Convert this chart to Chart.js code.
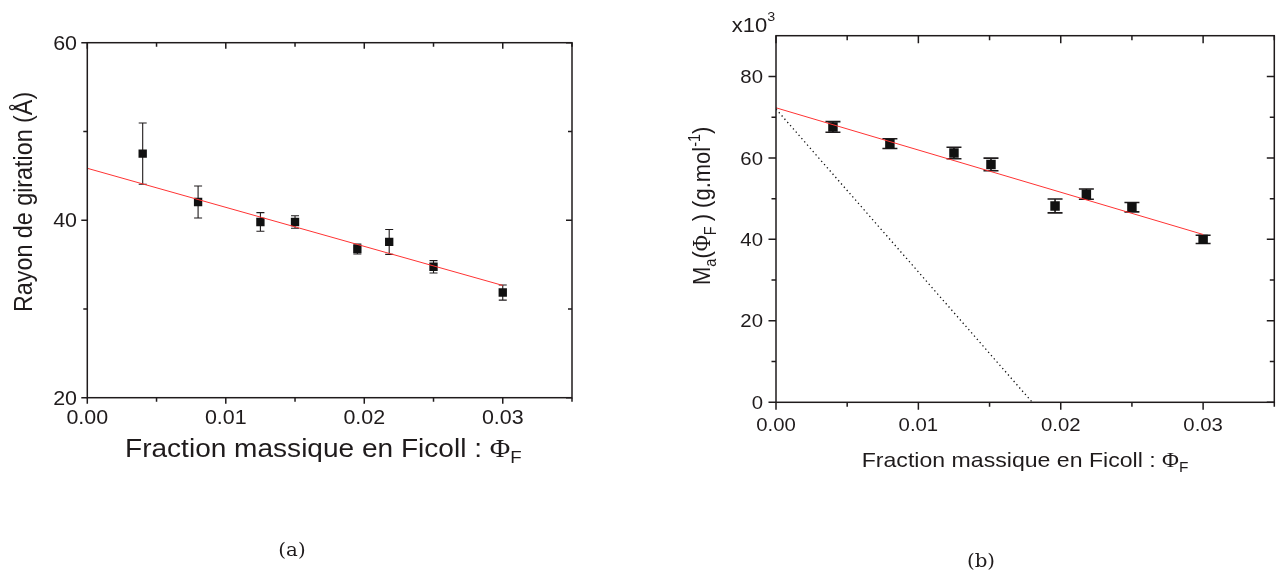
<!DOCTYPE html>
<html><head><meta charset="utf-8">
<script src="https://cdn.jsdelivr.net/npm/chart.js"></script>
<style>
html,body{margin:0;padding:0;background:#fff;overflow:hidden}
#wrap{position:relative;width:1283px;height:577px}
canvas{position:absolute;top:0}
</style></head><body>
<div id="wrap">
<canvas id="ca" width="640" height="577" style="left:0"></canvas>
<canvas id="cb" width="643" height="577" style="left:640px"></canvas>
</div>
<script>
// ---------- data (a) ----------
const phiA   = [0.0040, 0.0080, 0.0125, 0.0150, 0.0195, 0.0218, 0.0250, 0.0300];
const rgA    = [47.5, 42.05, 39.8, 39.8, 36.75, 37.55, 34.75, 31.85];
const rgErrA = [3.45, 1.8, 1.05, 0.7, 0.55, 1.4, 0.7, 0.85];
const fitXA  = [0, 0.030];
const fitYA  = [45.85, 32.65];

// ---------- data (b) (x10^3 g/mol) ----------
const phiB   = [0.0040, 0.0080, 0.0125, 0.0151, 0.0196, 0.0218, 0.0250, 0.0300];
const maB    = [67.6, 63.5, 61.2, 58.4, 48.2, 51.1, 47.9, 40.0];
const maErrB = [1.3, 1.2, 1.4, 1.55, 1.7, 1.25, 1.15, 1.0];
const fitXB  = [0, 0.030];
const fitYB  = [72.3, 41.2];
const dotXB  = [0, 0.018];
const dotYB  = [72.0, 0];

// ---------- ticks ----------
const xMajor = [0, 0.01, 0.02, 0.03];
const xLabels = ['0.00', '0.01', '0.02', '0.03'];
const xMinor = [0.005, 0.015, 0.025, 0.035];
const yMajorA = [20, 40, 60];
const yLabelsA = ['20', '40', '60'];
const yMinorA = [30, 50];
const yMajorB = [0, 20, 40, 60, 80];
const yLabelsB = ['0', '20', '40', '60', '80'];
const yMinorB = [10, 30, 50, 70];

const SANS = '"Liberation Sans", Arial, sans-serif';
const SERIF = '"Liberation Serif", "Times New Roman", serif';
const INK = '#1f1b1c';
const ST = 1.1; // horizontal stretch of the lettering

function richText(ctx, segs, x, y, align, rotate) {
  ctx.save();
  ctx.translate(x, y);
  ctx.scale(ST, 1);
  if (rotate) ctx.rotate(-Math.PI / 2);
  ctx.fillStyle = INK;
  ctx.textBaseline = 'alphabetic';
  ctx.textAlign = 'left';
  let w = 0;
  segs.forEach(s => { ctx.font = `${s.size}px ${s.fam || SANS}`; s.w = ctx.measureText(s.t).width; w += s.w + (s.gap || 0); });
  let cx = align === 'center' ? -w / 2 : align === 'right' ? -w : 0;
  segs.forEach(s => { ctx.font = `${s.size}px ${s.fam || SANS}`; ctx.fillText(s.t, cx, s.dy || 0); cx += s.w + (s.gap || 0); });
  ctx.restore();
}

function makePlugin(cfg) {
  return {
    id: 'decor',
    beforeDatasetsDraw(chart) {
      const ctx = chart.ctx, xs = chart.scales.x, ys = chart.scales.y;
      ctx.save();
      ctx.strokeStyle = INK;
      ctx.lineWidth = cfg.errW;
      cfg.xs.forEach((xv, i) => {
        const px = xs.getPixelForValue(xv);
        const yt = ys.getPixelForValue(cfg.ys[i] + cfg.err[i]);
        const yb = ys.getPixelForValue(cfg.ys[i] - cfg.err[i]);
        ctx.beginPath();
        ctx.moveTo(px, yt); ctx.lineTo(px, yb);
        ctx.moveTo(px - cfg.cap, yt); ctx.lineTo(px + cfg.cap, yt);
        ctx.moveTo(px - cfg.cap, yb); ctx.lineTo(px + cfg.cap, yb);
        ctx.stroke();
      });
      ctx.restore();
    },
    afterDraw(chart) {
      const ctx = chart.ctx, xs = chart.scales.x, ys = chart.scales.y;
      const a = chart.chartArea;
      ctx.save();
      ctx.strokeStyle = INK;
      ctx.lineWidth = 1.5;
      ctx.strokeRect(a.left, a.top, a.right - a.left, a.bottom - a.top);
      ctx.beginPath();
      const tx = (v, len) => {
        const p = xs.getPixelForValue(v);
        ctx.moveTo(p, a.bottom); ctx.lineTo(p, a.bottom + len);
        ctx.moveTo(p, a.top); ctx.lineTo(p, a.top + len);
      };
      const ty = (v, len) => {
        const p = ys.getPixelForValue(v);
        ctx.moveTo(a.left - len, p); ctx.lineTo(a.left, p);
        ctx.moveTo(a.right - len, p); ctx.lineTo(a.right, p);
      };
      cfg.xMajor.forEach(v => tx(v, cfg.maj));
      cfg.xMinor.forEach(v => tx(v, cfg.min));
      cfg.yMajor.forEach(v => ty(v, cfg.maj));
      cfg.yMinor.forEach(v => ty(v, cfg.min));
      ctx.stroke();
      ctx.restore();
      cfg.xMajor.forEach((v, i) => richText(ctx, [{t: cfg.xLabels[i], size: cfg.tickSize}], xs.getPixelForValue(v), cfg.xLabBase, 'center'));
      cfg.yMajor.forEach((v, i) => richText(ctx, [{t: cfg.yLabels[i], size: cfg.tickSize}], cfg.yLabRight, ys.getPixelForValue(v) + cfg.tickSize * 0.36, 'right'));
      cfg.extra(ctx);
    }
  };
}

function makeChart(id, cfg) {
  return new Chart(document.getElementById(id), {
    type: 'scatter',
    data: {
      datasets: cfg.datasets
    },
    options: {
      responsive: false,
      animation: false,
      events: [],
      layout: {padding: cfg.pad},
      plugins: {legend: {display: false}, tooltip: {enabled: false}},
      scales: {
        x: {type: 'linear', min: 0, max: 0.035, display: false},
        y: {type: 'linear', min: cfg.ymin, max: cfg.ymax, display: false}
      }
    },
    plugins: [makePlugin(cfg)]
  });
}

const pts = (xs, ys) => xs.map((x, i) => ({x, y: ys[i]}));

// ---------- chart (a) ----------
makeChart('ca', {
  pad: {left: 87.3, top: 42.7, right: 68, bottom: 179.3},
  ymin: 20, ymax: 60,
  xs: phiA, ys: rgA, err: rgErrA, errW: 1.1, cap: 4,
  xMajor, xMinor, xLabels, yMajor: yMajorA, yMinor: yMinorA, yLabels: yLabelsA,
  maj: 6, min: 4, tickSize: 19.5, xLabBase: 424, yLabRight: 77,
  datasets: [
    {data: pts(fitXA, fitYA), showLine: true, borderColor: '#ff3333', borderWidth: 1, pointRadius: 0},
    {data: pts(phiA, rgA), pointStyle: 'rect', pointRadius: 5.9, backgroundColor: '#111', borderWidth: 0}
  ],
  extra(ctx) {
    richText(ctx, [
      {t: 'Fraction massique en Ficoll : ', size: 25.5},
      {t: 'Φ', size: 25.5, fam: SERIF},
      {t: 'F', size: 17, dy: 6}
    ], 125, 457, 'left');
    richText(ctx, [{t: 'Rayon de giration (Å)', size: 23.3}], 31.7, 312, 'left', true);
    richText(ctx, [{t: '(a)', size: 18, fam: '"DejaVu Serif", serif'}], 292, 556, 'center');
  }
});

// ---------- chart (b) ----------
makeChart('cb', {
  pad: {left: 136, top: 35.7, right: 8.7, bottom: 174.7},
  ymin: 0, ymax: 90,
  xs: phiB, ys: maB, err: maErrB, errW: 1.6, cap: 7.5,
  xMajor, xMinor, xLabels, yMajor: yMajorB, yMinor: yMinorB, yLabels: yLabelsB,
  maj: 7.5, min: 4.5, tickSize: 18.5, xLabBase: 431, yLabRight: 123,
  datasets: [
    {data: pts(dotXB, dotYB), showLine: true, borderColor: '#111', borderWidth: 1.3, borderDash: [1.3, 3], pointRadius: 0},
    {data: pts(fitXB, fitYB), showLine: true, borderColor: '#ff3333', borderWidth: 1, pointRadius: 0},
    {data: pts(phiB, maB), pointStyle: 'rect', pointRadius: 6.7, backgroundColor: '#111', borderWidth: 0}
  ],
  extra(ctx) {
    richText(ctx, [
      {t: 'Fraction massique en Ficoll : ', size: 21},
      {t: 'Φ', size: 21, fam: SERIF},
      {t: 'F', size: 14, dy: 5}
    ], 221.7, 467, 'left');
    richText(ctx, [
      {t: 'M', size: 22},
      {t: 'a', size: 14.5, dy: 5},
      {t: '(', size: 22},
      {t: 'Φ', size: 22, fam: SERIF},
      {t: 'F', size: 14.5, dy: 5, gap: 5},
      {t: ') (g.mol', size: 22},
      {t: '-1', size: 14.5, dy: -9},
      {t: ')', size: 22}
    ], 70, 285, 'left', true);
    richText(ctx, [{t: 'x10', size: 20}, {t: '3', size: 13, dy: -11}], 91.7, 31.7, 'left');
    richText(ctx, [{t: '(b)', size: 18, fam: '"DejaVu Serif", serif'}], 341, 567, 'center');
  }
});
</script>
</body></html>
